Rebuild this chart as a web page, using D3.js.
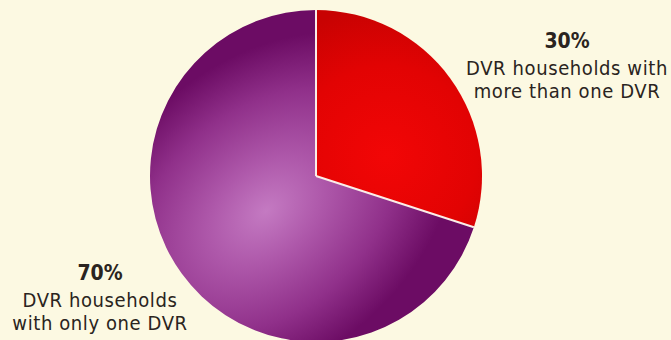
<!DOCTYPE html>
<html>
<head>
<meta charset="utf-8">
<script src="https://cdn.jsdelivr.net/npm/d3@7"></script>
<style>
  html, body { margin: 0; padding: 0; background: #fcf9e2; }
  svg { display: block; }
  text { font-family: "Liberation Sans Narrow", "DejaVu Sans Condensed", sans-serif; fill: #2a2420; }
</style>
</head>
<body>
<svg id="chart" width="671" height="340"></svg>
<script>
// DVR ownership share
const categories = ["DVR households with more than one DVR", "DVR households with only one DVR"];
const shares = [30, 70];
const pctLabels = ["30%", "70%"];
const labelLines = [
  ["DVR households with", "more than one DVR"],
  ["DVR households", "with only one DVR"]
];

const W = 671, H = 340;
const cx = 316, cy = 176, R = 166;

const svg = d3.select("#chart");
svg.append("rect").attr("width", W).attr("height", H).attr("fill", "#fcf9e2");

const defs = svg.append("defs");

// soft highlight gradients; coordinates are relative to the pie centre
const gRed = defs.append("radialGradient")
  .attr("id", "gRed").attr("gradientUnits", "userSpaceOnUse")
  .attr("cx", 70).attr("cy", -20).attr("r", 150);
gRed.append("stop").attr("offset", 0).attr("stop-color", "#f20606");
gRed.append("stop").attr("offset", 0.6).attr("stop-color", "#e20303");
gRed.append("stop").attr("offset", 1).attr("stop-color", "#c80202");

// elongated glow running diagonally from lower left towards the centre
const gPurple = defs.append("radialGradient")
  .attr("id", "gPurple").attr("gradientUnits", "userSpaceOnUse")
  .attr("cx", 0).attr("cy", 0).attr("r", 165)
  .attr("gradientTransform", "translate(-50,35) rotate(-40) scale(1.3,0.9)");
gPurple.append("stop").attr("offset", 0).attr("stop-color", "#c47ac2");
gPurple.append("stop").attr("offset", 0.3).attr("stop-color", "#ae58aa");
gPurple.append("stop").attr("offset", 0.68).attr("stop-color", "#90308a");
gPurple.append("stop").attr("offset", 1).attr("stop-color", "#6c0c64");

const fills = ["url(#gRed)", "url(#gPurple)"];

const pie = d3.pie().sort(null).value(d => d)(shares);
const arc = d3.arc().innerRadius(0).outerRadius(R);

const g = svg.append("g").attr("transform", `translate(${cx},${cy})`);
g.selectAll("path.slice")
  .data(pie)
  .join("path")
  .attr("class", "slice")
  .attr("d", arc)
  .attr("fill", (d, i) => fills[i]);

// thin light separators along the slice edges
pie.forEach(d => {
  const a = d.startAngle;
  g.append("line")
    .attr("x1", 0).attr("y1", 0)
    .attr("x2", R * Math.sin(a)).attr("y2", -R * Math.cos(a))
    .attr("stroke", "#fbeee8").attr("stroke-width", 2);
});

// labels
const labelPos = [
  { x: 567, y: 48 },
  { x: 100, y: 280 }
];
labelPos.forEach((p, i) => {
  const t = svg.append("g").attr("transform", `translate(${p.x},${p.y})`);
  t.append("text")
    .attr("text-anchor", "middle")
    .attr("font-size", 21).attr("font-weight", "bold")
    .text(pctLabels[i]);
  labelLines[i].forEach((line, j) => {
    t.append("text")
      .attr("text-anchor", "middle")
      .attr("y", 27 + j * 22.5)
      .attr("font-size", 20)
      .attr("letter-spacing", 0.6)
      .text(line);
  });
});
</script>
</body>
</html>
